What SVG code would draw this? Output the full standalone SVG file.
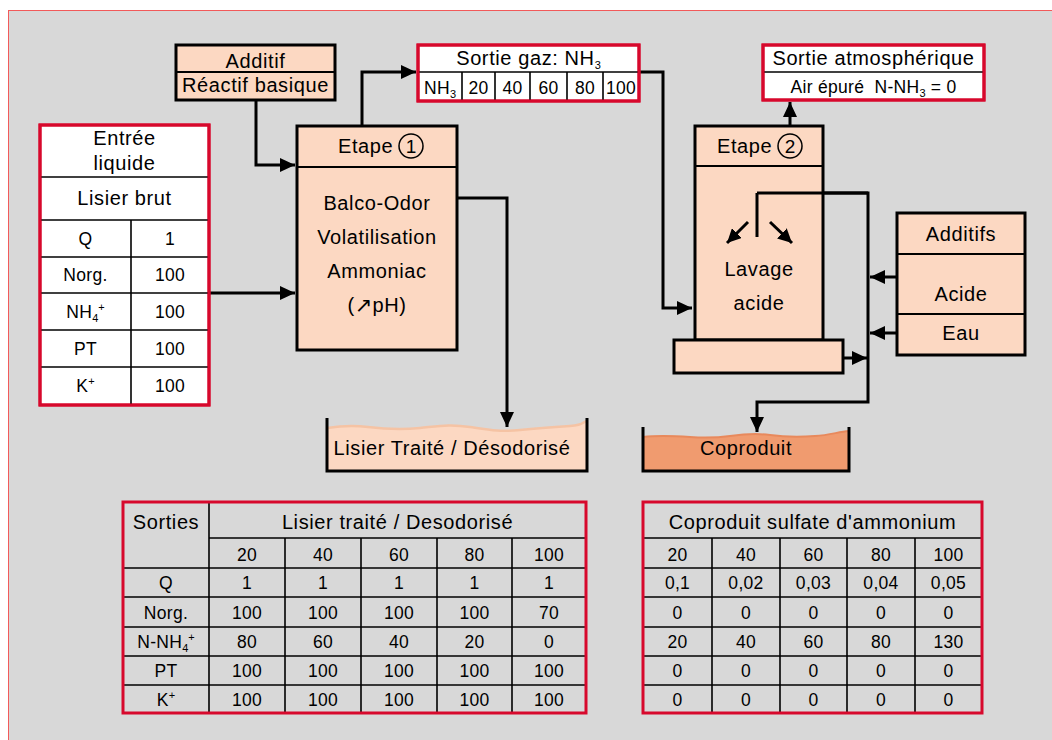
<svg xmlns="http://www.w3.org/2000/svg" width="1052" height="740" viewBox="0 0 1052 740">
<defs>
<style>
text{font-family:"Liberation Sans",Arial,sans-serif;fill:#000;letter-spacing:0.6px}
.t20{font-size:20px;text-anchor:middle}
.t17{font-size:17.5px;text-anchor:middle;letter-spacing:0.3px}
.sub{font-size:11px;letter-spacing:0}
.peach{fill:#fcd8c2;stroke:#000;stroke-width:3}
.redbox{fill:#fff;stroke:#d7082c;stroke-width:3}
.redframe{fill:none;stroke:#d7082c;stroke-width:3}
.div{stroke:#000;stroke-width:2;fill:none}
.grid{stroke:#000;stroke-width:1.6;fill:none}
.conn{stroke:#000;stroke-width:3;fill:none}
.wall{stroke:#000;stroke-width:3;fill:none}
</style>
<marker id="ah" markerUnits="userSpaceOnUse" markerWidth="15" markerHeight="14" refX="15" refY="7" orient="auto">
<path d="M0,0 L15,7 L0,14 Z" fill="#000"/>
</marker>
<marker id="ahs" markerUnits="userSpaceOnUse" markerWidth="14" markerHeight="14" refX="14" refY="7" orient="auto">
<path d="M0,0 L14,7 L0,14 Z" fill="#000"/>
</marker>
</defs>

<rect x="0" y="0" width="1052" height="740" fill="#fff"/>
<rect x="8.5" y="10.5" width="1050" height="740" fill="#d8d8d8" stroke="#f25a5a" stroke-width="1"/>

<g id="connectors">
<polyline class="conn" points="256,100 256,165 295,165" marker-end="url(#ah)"/>
<polyline class="conn" points="209,293 295,293" marker-end="url(#ah)"/>
<polyline class="conn" points="362,126 362,72 416,72" marker-end="url(#ah)"/>
<polyline class="conn" points="639,72 663,72 663,308 692,308" marker-end="url(#ah)"/>
<polyline class="conn" points="457,198 507,198 507,427" marker-end="url(#ah)"/>
<polyline class="conn" points="790,126 790,102" marker-end="url(#ah)"/>
<polyline class="conn" points="757,237 757,193 868,193 868,402 757,402 757,432" marker-end="url(#ah)"/>
<polyline class="conn" points="897,277 870,277" marker-end="url(#ah)"/>
<polyline class="conn" points="897,333 870,333" marker-end="url(#ah)"/>
<polyline class="conn" points="843,358 867,358" marker-end="url(#ah)"/>
</g>

<g id="additif">
<rect class="peach" x="176" y="45" width="159" height="55"/>
<line class="div" x1="176" y1="72" x2="335" y2="72"/>
<text class="t20" x="255.5" y="68">Additif</text>
<text class="t20" x="255.5" y="92">Réactif basique</text>
</g>

<g id="entree-liquide">
<rect class="redbox" x="40" y="125" width="169" height="280"/>
<g class="grid">
<line x1="40" y1="177" x2="209" y2="177"/>
<line x1="40" y1="220" x2="209" y2="220"/>
<line x1="40" y1="257" x2="209" y2="257"/>
<line x1="40" y1="293" x2="209" y2="293"/>
<line x1="40" y1="330" x2="209" y2="330"/>
<line x1="40" y1="367" x2="209" y2="367"/>
<line x1="131" y1="220" x2="131" y2="405"/>
</g>
<rect class="redframe" x="40" y="125" width="169" height="280"/>
<text class="t20" x="124.5" y="145">Entrée</text>
<text class="t20" x="124.5" y="170">liquide</text>
<text class="t20" x="124.5" y="205">Lisier brut</text>
<text class="t17" x="85.5" y="245">Q</text>
<text class="t17" x="170" y="245">1</text>
<text class="t17" x="85.5" y="281">Norg.</text>
<text class="t17" x="170" y="281">100</text>
<text class="t17" x="85.5" y="318">NH<tspan class="sub" dy="4">4</tspan><tspan class="sub" dy="-11">+</tspan></text>
<text class="t17" x="170" y="318">100</text>
<text class="t17" x="85.5" y="355">PT</text>
<text class="t17" x="170" y="355">100</text>
<text class="t17" x="85.5" y="392">K<tspan class="sub" dy="-7">+</tspan></text>
<text class="t17" x="170" y="392">100</text>
</g>

<g id="etape1">
<rect class="peach" x="297" y="126" width="160" height="224"/>
<line class="div" x1="297" y1="167" x2="457" y2="167"/>
<text x="338" y="153" style="font-size:20px">Etape</text>
<circle cx="411" cy="146" r="12" fill="none" stroke="#000" stroke-width="1.5"/>
<text class="t20" x="411" y="153" style="font-size:19px;letter-spacing:0">1</text>
<text class="t20" x="377" y="210">Balco-Odor</text>
<text class="t20" x="377" y="244">Volatilisation</text>
<text class="t20" x="377" y="278">Ammoniac</text>
<text class="t20" x="377" y="312">(<tspan style="font-family:'DejaVu Sans',sans-serif;font-size:21px;letter-spacing:0">↗</tspan>pH)</text>
</g>

<g id="sortie-gaz">
<rect class="redbox" x="418" y="45" width="221" height="56"/>
<g class="grid">
<line x1="418" y1="72" x2="639" y2="72"/>
<line x1="462" y1="72" x2="462" y2="101"/>
<line x1="495" y1="72" x2="495" y2="101"/>
<line x1="530" y1="72" x2="530" y2="101"/>
<line x1="567" y1="72" x2="567" y2="101"/>
<line x1="603" y1="72" x2="603" y2="101"/>
</g>
<rect class="redframe" x="418" y="45" width="221" height="56"/>
<text class="t20" x="528.5" y="65">Sortie gaz: NH<tspan class="sub" dy="4">3</tspan></text>
<text class="t17" x="440" y="94">NH<tspan class="sub" dy="4">3</tspan></text>
<text class="t17" x="478.5" y="94">20</text>
<text class="t17" x="512.5" y="94">40</text>
<text class="t17" x="548.5" y="94">60</text>
<text class="t17" x="585" y="94">80</text>
<text class="t17" x="621" y="94">100</text>
</g>

<g id="sortie-atmospherique">
<rect class="redbox" x="763" y="45" width="221" height="55"/>
<line class="grid" x1="763" y1="72" x2="984" y2="72"/>
<rect class="redframe" x="763" y="45" width="221" height="55"/>
<text class="t20" x="873.5" y="65">Sortie atmosphérique</text>
<text class="t17" x="873.5" y="93">Air épuré&#160; N-NH<tspan class="sub" dy="4">3</tspan><tspan dy="-4"> = 0</tspan></text>
</g>

<g id="etape2">
<rect class="peach" x="695" y="126" width="128" height="214"/>
<line class="div" x1="695" y1="166" x2="823" y2="166"/>
<rect class="peach" x="674" y="340" width="169" height="33"/>
<text x="717" y="153" style="font-size:20px">Etape</text>
<circle cx="790" cy="146" r="12" fill="none" stroke="#000" stroke-width="1.5"/>
<text class="t20" x="790" y="153" style="font-size:19px;letter-spacing:0">2</text>
<line class="conn" x1="757" y1="193" x2="868" y2="193"/>
<line class="conn" x1="757" y1="193" x2="757" y2="237"/>
<line class="conn" x1="748" y1="222" x2="727" y2="243" marker-end="url(#ahs)"/>
<line class="conn" x1="770" y1="222" x2="792" y2="243" marker-end="url(#ahs)"/>
<text class="t20" x="759" y="276">Lavage</text>
<text class="t20" x="759" y="310">acide</text>
</g>

<g id="additifs">
<rect class="peach" x="897" y="213" width="128" height="142"/>
<line class="div" x1="897" y1="254" x2="1025" y2="254"/>
<line class="div" x1="897" y1="314" x2="1025" y2="314"/>
<text class="t20" x="961" y="241">Additifs</text>
<text class="t20" x="961" y="301">Acide</text>
<text class="t20" x="961" y="340">Eau</text>
</g>

<g id="tank-lisier">
<path d="M327,428 C340,426 352,425 368,427 S400,430 420,428 S450,424 470,427 S500,432 520,430 S555,427 570,426 S582,422 587,421 L587,471 L327,471 Z" fill="#fcd8c2"/>
<path d="M327,428 C340,426 352,425 368,427 S400,430 420,428 S450,424 470,427 S500,432 520,430 S555,427 570,426 S582,422 587,421" fill="none" stroke="#f5c3a4" stroke-width="2.5"/>
<polyline class="wall" points="327,418 327,471 587,471 587,418"/>
<text class="t20" x="452" y="455">Lisier Traité / Désodorisé</text>
</g>

<g id="tank-coproduit">
<path d="M643,437 C660,435 675,436 690,437 S715,438 730,436 S755,433 770,435 S800,437 815,436 S838,432 849,431 L849,471 L643,471 Z" fill="#f09b6f"/>
<path d="M643,437 C660,435 675,436 690,437 S715,438 730,436 S755,433 770,435 S800,437 815,436 S838,432 849,431" fill="none" stroke="#e8895c" stroke-width="2"/>
<polyline class="wall" points="643,427 643,471 849,471 849,427"/>
<text class="t20" x="746" y="455">Coproduit</text>
</g>

<g id="table-lisier">
<g class="grid">
<line x1="209" y1="538" x2="586" y2="538"/>
<line x1="123" y1="568" x2="586" y2="568"/>
<line x1="123" y1="597" x2="586" y2="597"/>
<line x1="123" y1="627" x2="586" y2="627"/>
<line x1="123" y1="656" x2="586" y2="656"/>
<line x1="123" y1="685" x2="586" y2="685"/>
<line x1="209" y1="502" x2="209" y2="713"/>
<line x1="285" y1="538" x2="285" y2="713"/>
<line x1="361" y1="538" x2="361" y2="713"/>
<line x1="437" y1="538" x2="437" y2="713"/>
<line x1="512" y1="538" x2="512" y2="713"/>
</g>
<rect class="redframe" x="123" y="502" width="463" height="211"/>
<text class="t20" x="166" y="529">Sorties</text>
<text class="t20" x="397.5" y="529">Lisier traité / Desodorisé</text>
<text class="t17" x="247" y="561">20</text><text class="t17" x="323" y="561">40</text><text class="t17" x="399" y="561">60</text><text class="t17" x="474.5" y="561">80</text><text class="t17" x="549" y="561">100</text>
<text class="t17" x="166" y="589">Q</text>
<text class="t17" x="247" y="589">1</text><text class="t17" x="323" y="589">1</text><text class="t17" x="399" y="589">1</text><text class="t17" x="474.5" y="589">1</text><text class="t17" x="549" y="589">1</text>
<text class="t17" x="166" y="619">Norg.</text>
<text class="t17" x="247" y="619">100</text><text class="t17" x="323" y="619">100</text><text class="t17" x="399" y="619">100</text><text class="t17" x="474.5" y="619">100</text><text class="t17" x="549" y="619">70</text>
<text class="t17" x="166" y="648">N-NH<tspan class="sub" dy="4">4</tspan><tspan class="sub" dy="-11">+</tspan></text>
<text class="t17" x="247" y="648">80</text><text class="t17" x="323" y="648">60</text><text class="t17" x="399" y="648">40</text><text class="t17" x="474.5" y="648">20</text><text class="t17" x="549" y="648">0</text>
<text class="t17" x="166" y="677">PT</text>
<text class="t17" x="247" y="677">100</text><text class="t17" x="323" y="677">100</text><text class="t17" x="399" y="677">100</text><text class="t17" x="474.5" y="677">100</text><text class="t17" x="549" y="677">100</text>
<text class="t17" x="166" y="706">K<tspan class="sub" dy="-7">+</tspan></text>
<text class="t17" x="247" y="706">100</text><text class="t17" x="323" y="706">100</text><text class="t17" x="399" y="706">100</text><text class="t17" x="474.5" y="706">100</text><text class="t17" x="549" y="706">100</text>
</g>

<g id="table-coproduit">
<g class="grid">
<line x1="643" y1="538" x2="982" y2="538"/>
<line x1="643" y1="568" x2="982" y2="568"/>
<line x1="643" y1="597" x2="982" y2="597"/>
<line x1="643" y1="627" x2="982" y2="627"/>
<line x1="643" y1="656" x2="982" y2="656"/>
<line x1="643" y1="685" x2="982" y2="685"/>
<line x1="712" y1="538" x2="712" y2="713"/>
<line x1="780" y1="538" x2="780" y2="713"/>
<line x1="847" y1="538" x2="847" y2="713"/>
<line x1="915" y1="538" x2="915" y2="713"/>
</g>
<rect class="redframe" x="643" y="502" width="339" height="211"/>
<text class="t20" x="812.5" y="529">Coproduit sulfate d'ammonium</text>
<text class="t17" x="677.5" y="561">20</text><text class="t17" x="746" y="561">40</text><text class="t17" x="813.5" y="561">60</text><text class="t17" x="881" y="561">80</text><text class="t17" x="948.5" y="561">100</text>
<text class="t17" x="677.5" y="589">0,1</text><text class="t17" x="746" y="589">0,02</text><text class="t17" x="813.5" y="589">0,03</text><text class="t17" x="881" y="589">0,04</text><text class="t17" x="948.5" y="589">0,05</text>
<text class="t17" x="677.5" y="619">0</text><text class="t17" x="746" y="619">0</text><text class="t17" x="813.5" y="619">0</text><text class="t17" x="881" y="619">0</text><text class="t17" x="948.5" y="619">0</text>
<text class="t17" x="677.5" y="648">20</text><text class="t17" x="746" y="648">40</text><text class="t17" x="813.5" y="648">60</text><text class="t17" x="881" y="648">80</text><text class="t17" x="948.5" y="648">130</text>
<text class="t17" x="677.5" y="677">0</text><text class="t17" x="746" y="677">0</text><text class="t17" x="813.5" y="677">0</text><text class="t17" x="881" y="677">0</text><text class="t17" x="948.5" y="677">0</text>
<text class="t17" x="677.5" y="706">0</text><text class="t17" x="746" y="706">0</text><text class="t17" x="813.5" y="706">0</text><text class="t17" x="881" y="706">0</text><text class="t17" x="948.5" y="706">0</text>
</g>
</svg>
